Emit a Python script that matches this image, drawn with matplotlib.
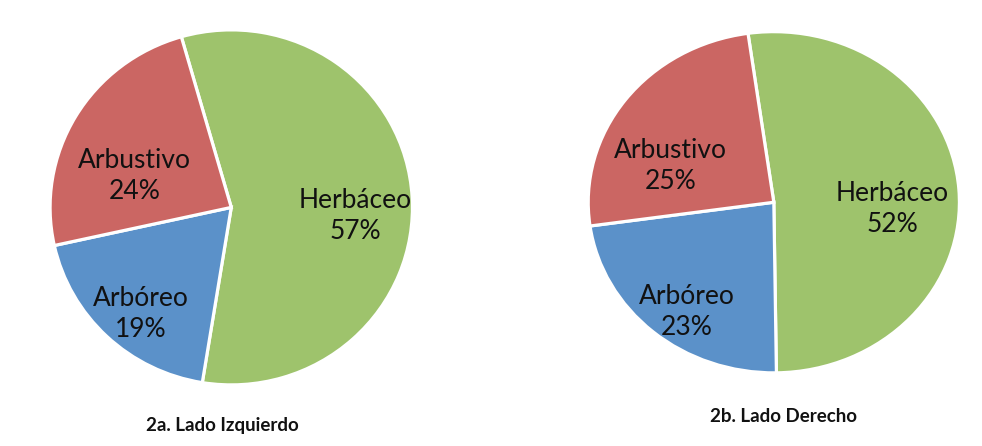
import matplotlib.pyplot as plt

# Estratos de vegetación por lado
categorias = ["Herbáceo", "Arbóreo", "Arbustivo"]
izquierdo = [57, 19, 24]
derecho = [52, 23, 25]
titulos = ["2a. Lado Izquierdo", "2b. Lado Derecho"]

colores = ["#9ec36c", "#5b91c9", "#cb6663"]

fig = plt.figure(figsize=(9.82, 4.46), dpi=100)
fig.patch.set_facecolor("white")

# posiciones de las tortas (fracción de figura)
cajas = [[0.051, 0.137, 0.369, 0.796], [0.599, 0.164, 0.378, 0.765]]
inicio = [106, 98]
# ubicación de las etiquetas dentro de cada torta
pos_etiquetas = [
    [(0.685, -0.05), (-0.50, -0.60), (-0.535, 0.175)],
    [(0.64, -0.04), (-0.47, -0.645), (-0.555, 0.21)],
]
pos_titulo = [(222, 425), (784, 417)]

for k, valores in enumerate([izquierdo, derecho]):
    ax = fig.add_axes(cajas[k])
    ax.pie(valores, colors=colores, startangle=inicio[k], counterclock=False,
           wedgeprops=dict(edgecolor="white", linewidth=2.3))
    ax.set_aspect("auto")
    ax.set_xlim(-1, 1)
    ax.set_ylim(-1, 1)
    ax.axis("off")
    for nombre, v, (x, y) in zip(categorias, valores, pos_etiquetas[k]):
        ax.text(x, y, f"{nombre}\n{v}%", ha="center", va="center",
                fontsize=19, family="Lato", color="#111111", linespacing=1.3)
    fig.text(pos_titulo[k][0] / 982, 1 - pos_titulo[k][1] / 446, titulos[k],
             ha="center", va="center", fontsize=13.5, fontweight="bold",
             family="Lato", color="#111111")

plt.savefig("out.png", dpi=100)
